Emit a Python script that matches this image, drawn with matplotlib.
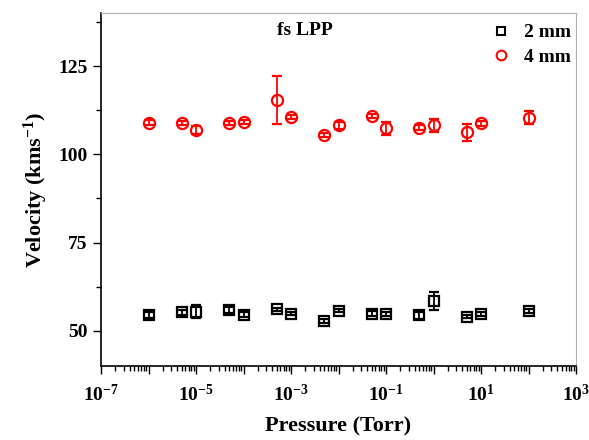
import matplotlib.pyplot as plt
import numpy as np
from matplotlib.ticker import FixedLocator, NullFormatter, MultipleLocator
from matplotlib.lines import Line2D

plt.rcParams['font.family'] = 'Liberation Serif'
plt.rcParams['font.weight'] = 'bold'
plt.rcParams['mathtext.fontset'] = 'custom'
plt.rcParams['mathtext.rm'] = 'Liberation Serif:bold'
plt.rcParams['mathtext.default'] = 'rm'

# pressure (Torr)
p = [1e-6, 5e-6, 1e-5, 5e-5, 1e-4, 5e-4, 1e-3, 5e-3, 1e-2,
     5e-2, 1e-1, 5e-1, 1, 5, 10, 100]

v2 = [54.4, 55.2, 55.4, 55.9, 54.6, 56.1, 54.9, 52.8, 55.7,
      54.9, 54.7, 54.4, 58.5, 54.0, 54.7, 55.6]
e2 = [0.8, 0.6, 1.9, 0.8, 0.6, 0.5, 0.5, 0.6, 0.5,
      0.6, 0.6, 1.0, 2.6, 0.5, 0.5, 0.6]

v4 = [109.0, 108.8, 106.9, 108.9, 109.2, 115.3, 110.5, 105.5, 108.2,
      110.9, 107.4, 107.6, 108.2, 106.3, 108.8, 110.4]
e4 = [0.6, 0.6, 1.0, 0.5, 0.5, 6.8, 0.6, 0.6, 0.9,
      0.5, 1.9, 0.6, 1.8, 2.4, 0.7, 1.9]

fig = plt.figure(figsize=(5.89, 4.4), dpi=100)
ax = fig.add_axes([0.1715, 0.168, 0.8065, 0.802])

ax.errorbar(p, v2, yerr=e2, fmt='s', mfc='none', mec='black', ecolor='black',
            ms=7, mew=1.6, elinewidth=1.3, capsize=3.5, capthick=1.3)
ax.errorbar(p, v4, yerr=e4, fmt='o', mfc='none', mec='red', ecolor='red',
            ms=8, mew=1.6, elinewidth=1.3, capsize=3.5, capthick=1.3)

ax.set_xscale('log')
ax.set_xlim(1e-7, 1e3)
ax.set_ylim(40, 140)

majors = [10.0**k for k in range(-7, 4)]
ax.xaxis.set_major_locator(FixedLocator(majors))
labels = []
for k in range(-7, 4):
    if k % 2 != 0:
        labels.append(r'$10^{%d}$' % k)
    else:
        labels.append('')
ax.set_xticklabels(labels)
minors = [m * 10.0**k for k in range(-7, 3) for m in range(2, 10)]
ax.xaxis.set_minor_locator(FixedLocator(minors))
ax.xaxis.set_minor_formatter(NullFormatter())

ax.yaxis.set_major_locator(FixedLocator([50, 75, 100, 125]))
ax.yaxis.set_minor_locator(MultipleLocator(12.5))

ax.tick_params(which='both', direction='out', top=False, right=False,
               labelsize=14, width=1.0)
ax.tick_params(which='major', length=6)
ax.tick_params(which='minor', length=3.5)
ax.tick_params(axis='x', which='major', pad=7)

for s in ['top', 'right']:
    ax.spines[s].set_color('#b0b0b0')
for s in ['left', 'bottom']:
    ax.spines[s].set_linewidth(1.2)

ax.set_xlabel('Pressure (Torr)', fontsize=16, fontweight='bold', labelpad=8)
ax.set_ylabel(r'Velocity (kms$^{-1}$)', fontsize=16, fontweight='bold', labelpad=6)

ax.text(0.37, 0.95, 'fs LPP', transform=ax.transAxes, fontsize=14,
        fontweight='bold', va='center', ha='left')

handles = [Line2D([], [], ls='none', marker='s', mfc='none', mec='black', ms=6, mew=1.5),
           Line2D([], [], ls='none', marker='o', mfc='none', mec='red', ms=7, mew=1.5)]
ax.legend(handles, ['2 mm', '4 mm'], loc='upper right', frameon=False,
          bbox_to_anchor=(1.014, 1.003), handlelength=1.0, handletextpad=0.7,
          labelspacing=0.35, borderaxespad=0.2, prop={'weight': 'bold', 'size': 14})

fig.savefig('out.png', dpi=100)
